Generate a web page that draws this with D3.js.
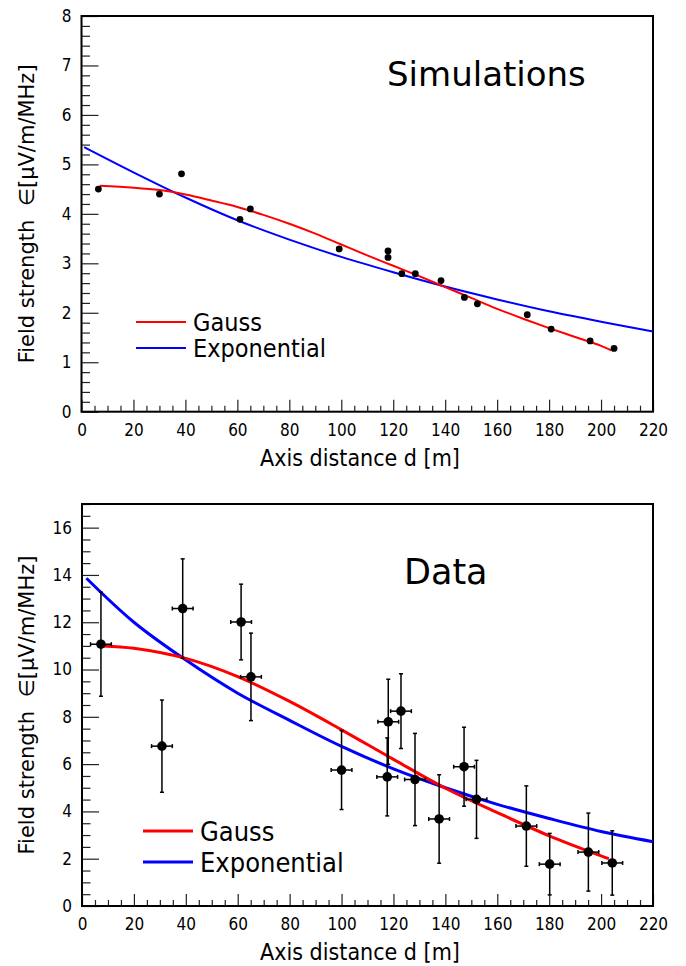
<!DOCTYPE html>
<meta charset="utf-8">
<style>
    body {
        margin: 0;
        background: #fff;
    }

    .tick text {
        font-family: "DejaVu Sans Condensed", "DejaVu Sans";
        font-stretch: condensed;
        font-size: 17px;
        fill: #000;
    }

    .tick line {
        stroke: #222;
        stroke-width: 1.2px;
    }

    .cond {
        font-family: "DejaVu Sans Condensed", "DejaVu Sans";
        font-stretch: condensed;
    }

    .norm {
        font-family: "DejaVu Sans";
    }
</style>

<body>
<div id="chart"></div>

<script src="https://d3js.org/d3.v7.min.js"></script>
<script>
  // ---- simulations (top panel) ----
  var simDistances = [6.5, 30, 38.5, 61, 65, 99.2, 118, 118, 123.3, 128.5, 138.4, 147.4, 152.4, 171.6, 180.8, 195.8, 205];
  var simValues = [4.5, 4.4, 4.81, 3.89, 4.1, 3.29, 3.25, 3.12, 2.79, 2.79, 2.65, 2.31, 2.18, 1.96, 1.67, 1.43, 1.28];

  // fit curves
  var simGaussX = [7, 20, 30, 40, 50, 60, 70, 80, 90, 100, 110, 120, 130, 140, 150, 160, 170, 180, 190, 200, 204];
  var simGaussY = [4.57, 4.53, 4.48, 4.39, 4.27, 4.14, 3.98, 3.8, 3.6, 3.38, 3.16, 2.95, 2.74, 2.52, 2.3, 2.08, 1.88, 1.69, 1.51, 1.33, 1.24];
  var simExpX = [1, 20, 40, 60, 80, 100, 120, 140, 160, 180, 200, 220];
  var simExpY = [5.35, 4.84, 4.33, 3.87, 3.48, 3.13, 2.82, 2.53, 2.27, 2.03, 1.82, 1.62];

  // ---- measured data (bottom panel) ----
  var dataDistances = [7.3, 30.8, 38.8, 61.3, 65.1, 100, 118, 117.6, 122.9, 128.3, 137.6, 147.2, 152, 171.2, 180.2, 195.1, 204.3];
  var dataValues = [11.07, 6.76, 12.58, 12.01, 9.69, 5.75, 7.79, 5.46, 8.24, 5.35, 3.68, 5.89, 4.51, 3.38, 1.77, 2.28, 1.82];
  var dataErrors = [2.2, 1.95, 2.1, 1.6, 1.85, 1.67, 1.8, 1.65, 1.58, 1.95, 1.87, 1.67, 1.65, 1.7, 1.3, 1.65, 1.36];
  var distanceError = 4;

  var dataGaussX = [8, 20, 40, 60, 80, 100, 120, 140, 160, 180, 200, 203];
  var dataGaussY = [11.0, 10.9, 10.47, 9.7, 8.65, 7.45, 6.2, 4.98, 3.95, 2.97, 2.12, 2.0];
  var dataExpX = [1.7, 20, 40, 60, 80, 100, 120, 140, 160, 180, 200, 220];
  var dataExpY = [13.86, 12.0, 10.4, 9.0, 7.85, 6.75, 5.8, 5.0, 4.3, 3.7, 3.15, 2.72];

  var xTicks = d3.range(0, 221, 20);
  var legendNames = ["Gauss", "Exponential"];
  var yTitle = "Field strength \u00a0\u2208[\u03bcV/m/MHz]";
  var xTitle = "Axis distance d [m]";

  var svg = d3.select("#chart")
    .append("svg")
    .attr("width", 686)
    .attr("height", 966);

  function zip(xs, ys) {
    return xs.map(function (v, i) { return [v, ys[i]]; });
  }

  function drawPanel(cfg) {
    var g = svg.append("g");
    var x = d3.scaleLinear().domain([0, 220]).range([cfg.left, cfg.right]);
    var y = d3.scaleLinear().domain([0, cfg.yMax]).range([cfg.bottom, cfg.top]);

    // x minor ticks
    var xMinor = d3.range(0, 221, 5).filter(function (v) { return v % 20 != 0; });
    g.append("g")
      .attr("transform", "translate(0," + cfg.bottom + ")")
      .call(d3.axisBottom(x).tickValues(xMinor).tickSizeInner(-6).tickSizeOuter(0).tickFormat(""))
      .call(function (a) { a.select(".domain").remove(); });
    // x major ticks
    g.append("g")
      .attr("transform", "translate(0," + cfg.bottom + ")")
      .call(d3.axisBottom(x).tickValues(xTicks).tickSizeInner(-12).tickSizeOuter(0).tickPadding(12))
      .call(function (a) { a.select(".domain").remove(); });

    // y minor ticks
    var yMinor = d3.range(0, cfg.yMax + 0.001, cfg.yMinor).filter(function (v) {
      return Math.abs(v / cfg.yMajor - Math.round(v / cfg.yMajor)) > 1e-6;
    });
    g.append("g")
      .attr("transform", "translate(" + cfg.left + ",0)")
      .call(d3.axisLeft(y).tickValues(yMinor).tickSizeInner(-8.5).tickSizeOuter(0).tickFormat(""))
      .call(function (a) { a.select(".domain").remove(); });
    g.append("g")
      .attr("transform", "translate(" + cfg.left + ",0)")
      .call(d3.axisLeft(y).tickValues(d3.range(0, cfg.yMax + 0.001, cfg.yMajor))
        .tickSizeInner(-17).tickSizeOuter(0).tickPadding(10).tickFormat(d3.format("d")))
      .call(function (a) { a.select(".domain").remove(); });

    // frame
    g.append("rect")
      .attr("x", cfg.left)
      .attr("y", cfg.top)
      .attr("width", cfg.right - cfg.left)
      .attr("height", cfg.bottom - cfg.top)
      .attr("fill", "none")
      .attr("stroke", "black")
      .attr("stroke-width", 2);

    // fit curves
    var line = d3.line()
      .x(function (d) { return x(d[0]); })
      .y(function (d) { return y(d[1]); })
      .curve(d3.curveCatmullRom.alpha(0.5));

    g.append("path")
      .attr("d", line(cfg.expo))
      .attr("fill", "none")
      .attr("stroke", "#0000ff")
      .attr("stroke-width", cfg.lineW);
    g.append("path")
      .attr("d", line(cfg.gauss))
      .attr("fill", "none")
      .attr("stroke", "#ff0000")
      .attr("stroke-width", cfg.lineW);

    // error bars
    if (cfg.errors) {
      var eb = g.append("g").attr("stroke", "black").attr("stroke-width", 1.5);
      cfg.dist.forEach(function (d, i) {
        var v = cfg.values[i], e = cfg.errors[i];
        var cx = x(d), cy = y(v);
        eb.append("line").attr("x1", cx).attr("x2", cx).attr("y1", y(v - e)).attr("y2", y(v + e));
        eb.append("line").attr("x1", cx - 2).attr("x2", cx + 2).attr("y1", y(v - e)).attr("y2", y(v - e));
        eb.append("line").attr("x1", cx - 2).attr("x2", cx + 2).attr("y1", y(v + e)).attr("y2", y(v + e));
        var xl = x(d - distanceError), xr = x(d + distanceError);
        eb.append("line").attr("x1", xl).attr("x2", xr).attr("y1", cy).attr("y2", cy);
        eb.append("line").attr("x1", xl).attr("x2", xl).attr("y1", cy - 2).attr("y2", cy + 2);
        eb.append("line").attr("x1", xr).attr("x2", xr).attr("y1", cy - 2).attr("y2", cy + 2);
      });
    }

    // markers
    g.selectAll("circle.pt")
      .data(cfg.dist)
      .enter()
      .append("circle")
      .attr("class", "pt")
      .attr("cx", function (d) { return x(d); })
      .attr("cy", function (d, i) { return y(cfg.values[i]); })
      .attr("r", cfg.markerR)
      .attr("fill", "black");

    // legend
    var colors = ["#ff0000", "#0000ff"];
    legendNames.forEach(function (name, i) {
      var ly = cfg.legY[i];
      g.append("line")
        .attr("x1", cfg.legX[0]).attr("x2", cfg.legX[1])
        .attr("y1", ly).attr("y2", ly)
        .attr("stroke", colors[i])
        .attr("stroke-width", cfg.lineW);
      g.append("text")
        .attr("class", "cond")
        .attr("x", cfg.legX[2])
        .attr("y", ly + cfg.legFont * 0.37)
        .attr("font-size", cfg.legFont)
        .text(name);
    });

    // title inside frame
    g.append("text")
      .attr("class", "norm")
      .attr("x", cfg.titleX)
      .attr("y", cfg.titleY)
      .attr("font-size", cfg.titleFont)
      .text(cfg.title);

    // axis titles
    g.append("text")
      .attr("class", "cond")
      .attr("x", 360)
      .attr("y", cfg.bottom + 54)
      .attr("text-anchor", "middle")
      .attr("font-size", 23)
      .text(xTitle);

    g.append("text")
      .attr("class", "norm")
      .attr("transform", "translate(34," + (cfg.top + cfg.bottom) / 2 + ") rotate(-90)")
      .attr("text-anchor", "middle")
      .attr("font-size", 21)
      .text(yTitle);
  }

  drawPanel({
    left: 81.5, right: 653, top: 16, bottom: 411.7,
    yMax: 8, yMajor: 1, yMinor: 0.2,
    dist: simDistances, values: simValues, errors: null,
    gauss: zip(simGaussX, simGaussY), expo: zip(simExpX, simExpY),
    markerR: 3.4, lineW: 2,
    legX: [136, 186, 193], legY: [322, 348], legFont: 25,
    title: "Simulations", titleX: 387, titleY: 86, titleFont: 34
  });

  drawPanel({
    left: 82, right: 653, top: 504, bottom: 906,
    yMax: 17, yMajor: 2, yMinor: 0.5,
    dist: dataDistances, values: dataValues, errors: dataErrors,
    gauss: zip(dataGaussX, dataGaussY), expo: zip(dataExpX, dataExpY),
    markerR: 4.8, lineW: 3,
    legX: [143, 193, 200], legY: [831, 862], legFont: 27,
    title: "Data", titleX: 404, titleY: 584, titleFont: 35
  });
</script>
</body>
